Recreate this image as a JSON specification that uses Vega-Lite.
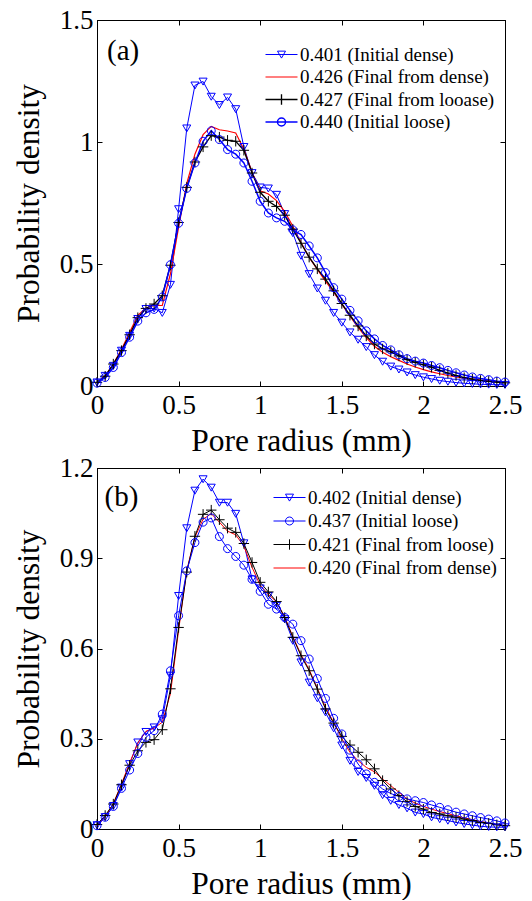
{
  "$schema": "https://vega.github.io/schema/vega-lite/v6.json",
  "padding": {"top": 5, "left": 12, "right": 0, "bottom": 0},
  "bounds": "flush",
  "spacing": 82,
  "resolve": {"scale": {"color": "independent", "shape": "independent", "strokeWidth": "independent"}, "legend": {"color": "independent", "shape": "independent", "strokeWidth": "independent"}},
  "config": {
    "font": "Liberation Serif, DejaVu Serif, serif",
    "view": {"stroke": "black", "strokeWidth": 1},
    "axis": {"grid": false, "domainColor": "black", "tickColor": "black", "labelColor": "black", "titleColor": "black", "titleFontWeight": "normal", "labelFont": "Liberation Serif, DejaVu Serif, serif", "titleFont": "Liberation Serif, DejaVu Serif, serif", "labelFontSize": 27, "titleFontSize": 31.5, "tickSize": -5, "labelFlush": false, "labelOverlap": false, "format": "~g"},
    "legend": {"labelFont": "Liberation Serif, DejaVu Serif, serif", "labelFontSize": 19, "labelColor": "black", "labelLimit": 400, "padding": 0, "symbolSize": 256, "labelOffset": 9, "rowPadding": 2.5, "symbolStrokeWidth": 1.3, "orient": "none"}
  },
  "datasets": {
    "a": [
      {"x":0,"d":0.015,"fd":0.012,"fl":0.015,"l":0.012},
      {"x":0.05,"d":0.042,"fd":0.042,"fl":0.04,"l":0.035},
      {"x":0.1,"d":0.083,"fd":0.09,"fl":0.09,"l":0.076},
      {"x":0.15,"d":0.145,"fd":0.15,"fl":0.145,"l":0.137},
      {"x":0.2,"d":0.206,"fd":0.22,"fl":0.21,"l":0.2},
      {"x":0.25,"d":0.275,"fd":0.29,"fl":0.28,"l":0.266},
      {"x":0.3,"d":0.316,"fd":0.32,"fl":0.318,"l":0.3},
      {"x":0.35,"d":0.318,"fd":0.33,"fl":0.336,"l":0.314},
      {"x":0.4,"d":0.3,"fd":0.33,"fl":0.37,"l":0.365},
      {"x":0.45,"d":0.415,"fd":0.46,"fl":0.495,"l":0.497},
      {"x":0.5,"d":0.725,"fd":0.65,"fl":0.67,"l":0.667},
      {"x":0.55,"d":1.056,"fd":0.83,"fl":0.814,"l":0.81},
      {"x":0.6,"d":1.232,"fd":0.95,"fl":0.918,"l":0.914},
      {"x":0.65,"d":1.248,"fd":1.03,"fl":0.98,"l":1.003},
      {"x":0.7,"d":1.186,"fd":1.064,"fl":1.026,"l":1.046},
      {"x":0.75,"d":1.152,"fd":1.05,"fl":1.02,"l":1.01},
      {"x":0.8,"d":1.183,"fd":1.045,"fl":1.007,"l":0.969},
      {"x":0.85,"d":1.135,"fd":1.037,"fl":1.003,"l":0.95},
      {"x":0.9,"d":0.98,"fd":0.97,"fl":0.966,"l":0.914},
      {"x":0.95,"d":0.873,"fd":0.876,"fl":0.873,"l":0.839},
      {"x":1.0,"d":0.814,"fd":0.8,"fl":0.794,"l":0.757},
      {"x":1.05,"d":0.81,"fd":0.787,"fl":0.757,"l":0.709},
      {"x":1.1,"d":0.784,"fd":0.76,"fl":0.736,"l":0.689},
      {"x":1.15,"d":0.705,"fd":0.715,"fl":0.7,"l":0.675},
      {"x":1.2,"d":0.627,"fd":0.655,"fl":0.643,"l":0.64},
      {"x":1.25,"d":0.534,"fd":0.588,"fl":0.585,"l":0.621},
      {"x":1.3,"d":0.459,"fd":0.527,"fl":0.528,"l":0.574},
      {"x":1.35,"d":0.4,"fd":0.478,"fl":0.48,"l":0.525},
      {"x":1.4,"d":0.35,"fd":0.43,"fl":0.438,"l":0.465},
      {"x":1.45,"d":0.3,"fd":0.385,"fl":0.39,"l":0.403},
      {"x":1.5,"d":0.26,"fd":0.335,"fl":0.338,"l":0.356},
      {"x":1.55,"d":0.22,"fd":0.286,"fl":0.29,"l":0.31},
      {"x":1.6,"d":0.19,"fd":0.24,"fl":0.246,"l":0.267},
      {"x":1.65,"d":0.16,"fd":0.198,"fl":0.205,"l":0.226},
      {"x":1.7,"d":0.127,"fd":0.163,"fl":0.172,"l":0.193},
      {"x":1.75,"d":0.1,"fd":0.138,"fl":0.152,"l":0.166},
      {"x":1.8,"d":0.08,"fd":0.12,"fl":0.14,"l":0.148},
      {"x":1.85,"d":0.068,"fd":0.105,"fl":0.123,"l":0.128},
      {"x":1.9,"d":0.056,"fd":0.09,"fl":0.108,"l":0.112},
      {"x":1.95,"d":0.045,"fd":0.078,"fl":0.097,"l":0.102},
      {"x":2.0,"d":0.036,"fd":0.067,"fl":0.087,"l":0.094},
      {"x":2.05,"d":0.029,"fd":0.058,"fl":0.077,"l":0.084},
      {"x":2.1,"d":0.022,"fd":0.05,"fl":0.064,"l":0.075},
      {"x":2.15,"d":0.018,"fd":0.043,"fl":0.053,"l":0.064},
      {"x":2.2,"d":0.014,"fd":0.037,"fl":0.043,"l":0.054},
      {"x":2.25,"d":0.011,"fd":0.032,"fl":0.034,"l":0.045},
      {"x":2.3,"d":0.009,"fd":0.028,"fl":0.028,"l":0.037},
      {"x":2.35,"d":0.007,"fd":0.024,"fl":0.023,"l":0.031},
      {"x":2.4,"d":0.006,"fd":0.021,"fl":0.019,"l":0.026},
      {"x":2.45,"d":0.005,"fd":0.018,"fl":0.016,"l":0.02},
      {"x":2.5,"d":0.005,"fd":0.015,"fl":0.013,"l":0.016}
    ],
    "b": [
      {"x":0,"d":0.013,"fd":0.01,"fl":0.015,"l":0.011},
      {"x":0.05,"d":0.04,"fd":0.04,"fl":0.045,"l":0.039},
      {"x":0.1,"d":0.077,"fd":0.085,"fl":0.083,"l":0.075},
      {"x":0.15,"d":0.138,"fd":0.15,"fl":0.147,"l":0.135},
      {"x":0.2,"d":0.216,"fd":0.22,"fl":0.212,"l":0.196},
      {"x":0.25,"d":0.288,"fd":0.285,"fl":0.26,"l":0.251},
      {"x":0.3,"d":0.323,"fd":0.325,"fl":0.288,"l":0.305},
      {"x":0.35,"d":0.338,"fd":0.335,"fl":0.297,"l":0.327},
      {"x":0.4,"d":0.365,"fd":0.355,"fl":0.33,"l":0.382},
      {"x":0.45,"d":0.51,"fd":0.45,"fl":0.466,"l":0.526},
      {"x":0.5,"d":0.775,"fd":0.66,"fl":0.67,"l":0.709},
      {"x":0.55,"d":1.0,"fd":0.86,"fl":0.854,"l":0.858},
      {"x":0.6,"d":1.125,"fd":0.97,"fl":0.973,"l":0.952},
      {"x":0.65,"d":1.163,"fd":1.03,"fl":1.046,"l":1.02},
      {"x":0.7,"d":1.135,"fd":1.048,"fl":1.06,"l":1.034},
      {"x":0.75,"d":1.085,"fd":1.02,"fl":1.028,"l":0.972},
      {"x":0.8,"d":1.085,"fd":0.99,"fl":1.0,"l":0.932},
      {"x":0.85,"d":1.048,"fd":0.978,"fl":0.986,"l":0.906},
      {"x":0.9,"d":0.95,"fd":0.94,"fl":0.949,"l":0.877},
      {"x":0.95,"d":0.83,"fd":0.87,"fl":0.886,"l":0.83},
      {"x":1.0,"d":0.8,"fd":0.81,"fl":0.82,"l":0.79},
      {"x":1.05,"d":0.775,"fd":0.78,"fl":0.788,"l":0.747},
      {"x":1.1,"d":0.742,"fd":0.755,"fl":0.756,"l":0.731},
      {"x":1.15,"d":0.698,"fd":0.705,"fl":0.703,"l":0.703},
      {"x":1.2,"d":0.626,"fd":0.64,"fl":0.637,"l":0.681},
      {"x":1.25,"d":0.554,"fd":0.58,"fl":0.576,"l":0.626},
      {"x":1.3,"d":0.487,"fd":0.53,"fl":0.526,"l":0.565},
      {"x":1.35,"d":0.435,"fd":0.468,"fl":0.465,"l":0.5},
      {"x":1.4,"d":0.388,"fd":0.405,"fl":0.399,"l":0.434},
      {"x":1.45,"d":0.335,"fd":0.355,"fl":0.352,"l":0.368},
      {"x":1.5,"d":0.278,"fd":0.3,"fl":0.308,"l":0.316},
      {"x":1.55,"d":0.227,"fd":0.255,"fl":0.279,"l":0.262},
      {"x":1.6,"d":0.19,"fd":0.227,"fl":0.255,"l":0.216},
      {"x":1.65,"d":0.17,"fd":0.205,"fl":0.23,"l":0.183},
      {"x":1.7,"d":0.144,"fd":0.19,"fl":0.2,"l":0.155},
      {"x":1.75,"d":0.113,"fd":0.166,"fl":0.161,"l":0.133},
      {"x":1.8,"d":0.094,"fd":0.144,"fl":0.133,"l":0.118},
      {"x":1.85,"d":0.08,"fd":0.122,"fl":0.111,"l":0.108},
      {"x":1.9,"d":0.069,"fd":0.1,"fl":0.091,"l":0.1},
      {"x":1.95,"d":0.055,"fd":0.086,"fl":0.075,"l":0.094},
      {"x":2.0,"d":0.05,"fd":0.075,"fl":0.066,"l":0.088},
      {"x":2.05,"d":0.039,"fd":0.066,"fl":0.055,"l":0.08},
      {"x":2.1,"d":0.033,"fd":0.058,"fl":0.05,"l":0.072},
      {"x":2.15,"d":0.028,"fd":0.051,"fl":0.044,"l":0.064},
      {"x":2.2,"d":0.022,"fd":0.044,"fl":0.039,"l":0.056},
      {"x":2.25,"d":0.017,"fd":0.037,"fl":0.033,"l":0.05},
      {"x":2.3,"d":0.013,"fd":0.031,"fl":0.028,"l":0.044},
      {"x":2.35,"d":0.009,"fd":0.025,"fl":0.022,"l":0.038},
      {"x":2.4,"d":0.007,"fd":0.02,"fl":0.019,"l":0.033},
      {"x":2.45,"d":0.006,"fd":0.015,"fl":0.014,"l":0.027},
      {"x":2.5,"d":0.006,"fd":0.011,"fl":0.011,"l":0.02}
    ]
  },
  "vconcat": [
    {
      "width": 408,
      "height": 366,
      "resolve": {"axis": {"x": "independent", "y": "independent"}},
      "layer": [
        {
          "data": {"name": "a"},
          "transform": [{"fold": ["d", "fd", "fl", "l"], "as": ["s", "v"]}],
          "mark": {"type": "line"},
          "encoding": {
            "x": {"field": "x", "type": "quantitative", "scale": {"domain": [0, 2.5], "nice": false, "zero": false}, "axis": {"orient": "bottom", "values": [0, 0.5, 1, 1.5, 2, 2.5], "title": "Pore radius (mm)", "labelPadding": 11, "titlePadding": 7}},
            "y": {"field": "v", "type": "quantitative", "scale": {"domain": [0, 1.5], "nice": false}, "axis": {"orient": "left", "values": [0, 0.5, 1, 1.5], "title": "Probability density", "labelPadding": 9, "titlePadding": 14}},
            "color": {"field": "s", "type": "nominal", "scale": {"domain": ["d", "fd", "fl", "l"], "range": ["#0000ff", "#ff0000", "#000000", "#0000ff"]}, "legend": {"title": null, "legendX": 175, "legendY": 25, "rowPadding": 2.5, "labelExpr": "datum.value == 'd' ? '0.401 (Initial dense)' : datum.value == 'fd' ? '0.426 (Final from dense)' : datum.value == 'fl' ? '0.427 (Final from looase)' : '0.440 (Initial loose)'", "encode": {"symbols": {"update": {"shape": {"signal": "datum.value == 'd' ? 'M-2,0H2M-0.5,-0.42L0.5,-0.42L0,0.45Z' : datum.value == 'fd' ? 'M-2,0H2' : datum.value == 'fl' ? 'M-2,0H2M0,-0.65V0.65' : 'M-2,0H2M0.5,0A0.5,0.5,0,1,1,-0.5,0A0.5,0.5,0,1,1,0.5,0Z'"}, "fill": {"value": "transparent"}, "strokeWidth": {"value": 1.3}, "size": {"value": 256}}}}}},
            "strokeWidth": {"field": "s", "type": "ordinal", "scale": {"domain": ["d", "fd", "fl", "l"], "range": [1, 1.5, 1.5, 1]}, "legend": null}
          }
        },
        {
          "data": {"name": "a"},
          "transform": [{"fold": ["d", "fl", "l"], "as": ["k", "v"]}],
          "mark": {"type": "point", "filled": false, "size": 256, "strokeWidth": 1, "opacity": 1},
          "encoding": {
            "x": {"field": "x", "type": "quantitative", "axis": {"orient": "top", "values": [0, 0.5, 1, 1.5, 2, 2.5], "labels": false, "title": null}},
            "y": {"field": "v", "type": "quantitative", "axis": {"orient": "right", "values": [0, 0.5, 1, 1.5], "labels": false, "title": null}},
            "color": {"field": "k", "type": "nominal", "scale": {"domain": ["d", "fd", "fl", "l"], "range": ["#0000ff", "#ff0000", "#000000", "#0000ff"]}, "legend": null},
            "shape": {"field": "k", "type": "nominal", "scale": {"domain": ["d", "fl", "l"], "range": ["M-0.5,-0.42L0.5,-0.42L0,0.45Z", "M-0.65,0H0.65M0,-0.65V0.65", "M0.5,0A0.5,0.5,0,1,1,-0.5,0A0.5,0.5,0,1,1,0.5,0Z"]}, "legend": null}
          }
        },
        {
          "data": {"values": [{}]},
          "mark": {"type": "text", "fontSize": 29, "font": "Liberation Serif, DejaVu Serif, serif", "fill": "black"},
          "encoding": {
            "x": {"datum": 0.16, "type": "quantitative", "axis": null},
            "y": {"datum": 1.375, "type": "quantitative", "axis": null},
            "text": {"value": "(a)"}
          }
        }
      ]
    },
    {
      "width": 408,
      "height": 361,
      "resolve": {"axis": {"x": "independent", "y": "independent"}},
      "layer": [
        {
          "data": {"name": "b"},
          "transform": [{"fold": ["d", "fd", "fl", "l"], "as": ["s", "v"]}],
          "mark": {"type": "line"},
          "encoding": {
            "x": {"field": "x", "type": "quantitative", "scale": {"domain": [0, 2.5], "nice": false, "zero": false}, "axis": {"orient": "bottom", "values": [0, 0.5, 1, 1.5, 2, 2.5], "title": "Pore radius (mm)", "labelPadding": 11, "titlePadding": 7}},
            "y": {"field": "v", "type": "quantitative", "scale": {"domain": [0, 1.2], "nice": false}, "axis": {"orient": "left", "values": [0, 0.3, 0.6, 0.9, 1.2], "title": "Probability density", "labelPadding": 9, "titlePadding": 14}},
            "color": {"field": "s", "type": "nominal", "scale": {"domain": ["d", "l", "fl", "fd"], "range": ["#0000ff", "#0000ff", "#000000", "#ff0000"]}, "legend": {"title": null, "legendX": 183, "legendY": 20, "rowPadding": 3.5, "labelExpr": "datum.value == 'd' ? '0.402 (Initial dense)' : datum.value == 'l' ? '0.437 (Initial loose)' : datum.value == 'fl' ? '0.421 (Final from loose)' : '0.420 (Final from dense)'", "encode": {"symbols": {"update": {"shape": {"signal": "datum.value == 'd' ? 'M-2,0H2M-0.5,-0.42L0.5,-0.42L0,0.45Z' : datum.value == 'fd' ? 'M-2,0H2' : datum.value == 'fl' ? 'M-2,0H2M0,-0.65V0.65' : 'M-2,0H2M0.5,0A0.5,0.5,0,1,1,-0.5,0A0.5,0.5,0,1,1,0.5,0Z'"}, "fill": {"value": "transparent"}, "strokeWidth": {"value": 1.3}, "size": {"value": 256}}}}}},
            "strokeWidth": {"field": "s", "type": "ordinal", "scale": {"domain": ["d", "l", "fl", "fd"], "range": [1, 1, 1.5, 1.5]}, "legend": null}
          }
        },
        {
          "data": {"name": "b"},
          "transform": [{"fold": ["d", "fl", "l"], "as": ["k", "v"]}],
          "mark": {"type": "point", "filled": false, "size": 256, "strokeWidth": 1, "opacity": 1},
          "encoding": {
            "x": {"field": "x", "type": "quantitative", "axis": {"orient": "top", "values": [0, 0.5, 1, 1.5, 2, 2.5], "labels": false, "title": null}},
            "y": {"field": "v", "type": "quantitative", "axis": {"orient": "right", "values": [0, 0.3, 0.6, 0.9, 1.2], "labels": false, "title": null}},
            "color": {"field": "k", "type": "nominal", "scale": {"domain": ["d", "l", "fl", "fd"], "range": ["#0000ff", "#0000ff", "#000000", "#ff0000"]}, "legend": null},
            "shape": {"field": "k", "type": "nominal", "scale": {"domain": ["d", "l", "fl"], "range": ["M-0.5,-0.42L0.5,-0.42L0,0.45Z", "M0.5,0A0.5,0.5,0,1,1,-0.5,0A0.5,0.5,0,1,1,0.5,0Z", "M-0.65,0H0.65M0,-0.65V0.65"]}, "legend": null}
          }
        },
        {
          "data": {"values": [{}]},
          "mark": {"type": "text", "fontSize": 29, "font": "Liberation Serif, DejaVu Serif, serif", "fill": "black"},
          "encoding": {
            "x": {"datum": 0.15, "type": "quantitative", "axis": null},
            "y": {"datum": 1.105, "type": "quantitative", "axis": null},
            "text": {"value": "(b)"}
          }
        }
      ]
    }
  ]
}
